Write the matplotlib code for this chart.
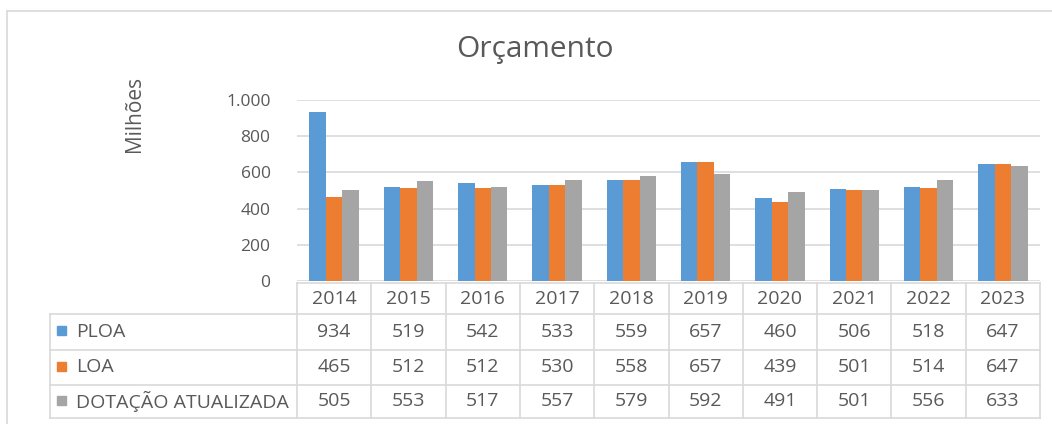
import matplotlib
matplotlib.use("Agg")
import matplotlib.pyplot as plt
from matplotlib.patches import Rectangle
import numpy as np

plt.rcParams['font.family'] = ['Open Sans', 'DejaVu Sans']

years = ["2014", "2015", "2016", "2017", "2018", "2019", "2020", "2021", "2022", "2023"]
series_names = ["PLOA", "LOA", "DOTAÇÃO ATUALIZADA"]
ploa = [934, 519, 542, 533, 559, 657, 460, 506, 518, 647]
loa = [465, 512, 512, 530, 558, 657, 439, 501, 514, 647]
dotacao = [505, 553, 517, 557, 579, 592, 491, 501, 556, 633]
yticks = [0, 200, 400, 600, 800, 1000]
ytick_labels = ["0", "200", "400", "600", "800", "1.000"]

colors = ["#5B9BD5", "#ED7D31", "#A5A5A5"]
txt = "#595959"
grid = "#D9D9D9"

W, H = 1052, 424
fig = plt.figure(figsize=(W / 100, H / 100), dpi=100)

def fx(px):
    return px / W

def fy(py):
    return 1 - py / H

# outer border lines (top and left)
fig.add_artist(plt.Line2D([fx(7), 1], [fy(11), fy(11)], color=grid, lw=1.2))
fig.add_artist(plt.Line2D([fx(7), fx(7)], [fy(11), 0], color=grid, lw=1.2))

pl, pr, pt, pb = 297, 1040, 100, 281
ax = fig.add_axes([fx(pl), fy(pb), fx(pr) - fx(pl), fy(pt) - fy(pb)])
n = len(years)
x = np.arange(n)
bw = 0.222
data = [ploa, loa, dotacao]
for i, (vals, c) in enumerate(zip(data, colors)):
    ax.bar(x + (i - 1) * bw, vals, width=bw, color=c, zorder=3)
ax.set_xlim(-0.5, n - 0.5)
ax.set_ylim(0, 1000)
ax.set_yticks(yticks)
ax.set_yticklabels(ytick_labels, fontsize=12.5, color=txt)
ax.tick_params(axis='y', length=0, pad=19)
ax.set_xticks([])
ax.grid(axis='y', color=grid, lw=1.2, zorder=0)
for s in ax.spines.values():
    s.set_visible(False)

fig.text(fx(134), fy(114), "Milhões", rotation=90, ha='center', va='center', fontsize=15, color=txt)
fig.text(fx(535), fy(50), "Orçamento", ha='center', va='center', fontsize=21.5, color=txt)

# data table
tl, tr, tt, tb = 50, 1040, 283, 418
tax = fig.add_axes([fx(tl), fy(tb), fx(tr) - fx(tl), fy(tt) - fy(tb)])
unit = (pr - pl) / n
x_left = -0.5 - (pl - tl) / unit
tax.set_xlim(x_left, n - 0.5)
row_edges = [0, 31, 67, 102, 135]
tax.set_ylim(row_edges[-1], 0)
tax.axis('off')
lc = grid
lw = 1.2
# horizontal lines
tax.plot([-0.5, n - 0.5], [row_edges[0]] * 2, color=lc, lw=lw, clip_on=False)
for r in row_edges[1:]:
    tax.plot([x_left, n - 0.5], [r, r], color=lc, lw=lw, clip_on=False)
# vertical lines
for k in range(n + 1):
    tax.plot([k - 0.5, k - 0.5], [row_edges[0], row_edges[-1]], color=lc, lw=lw, clip_on=False)
tax.plot([x_left, x_left], [row_edges[1], row_edges[-1]], color=lc, lw=lw, clip_on=False)

fs = 14
for k, yr in enumerate(years):
    tax.text(k, (row_edges[0] + row_edges[1]) / 2, yr, ha='center', va='center', fontsize=fs, color=txt)
sq = 9 / unit
for r, (name, vals, c) in enumerate(zip(series_names, data, colors)):
    yc = (row_edges[r + 1] + row_edges[r + 2]) / 2
    for k, v in enumerate(vals):
        tax.text(k, yc, str(v), ha='center', va='center', fontsize=fs, color=txt)
    tax.add_patch(Rectangle((x_left + 7 / unit, yc - 6), sq, 9, color=c, clip_on=False))
    tax.text(x_left + 26 / unit, yc, name, ha='left', va='center', fontsize=fs, color=txt)

fig.savefig("out.png", dpi=100)
